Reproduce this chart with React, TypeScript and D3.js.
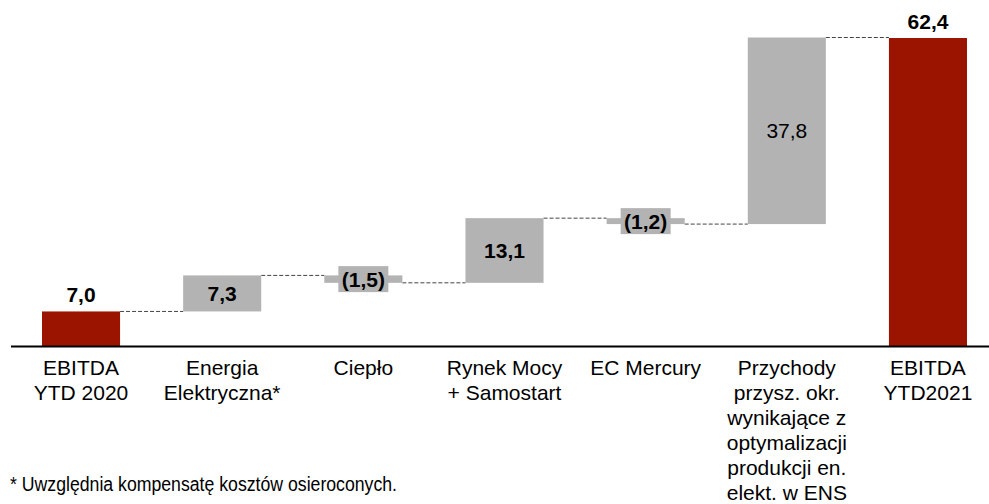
import React, { useEffect } from "react";
import * as d3 from "d3";

const categories: string[][] = [
  ["EBITDA", "YTD 2020"],
  ["Energia", "Elektryczna*"],
  ["Ciepło"],
  ["Rynek Mocy", "+ Samostart"],
  ["EC Mercury"],
  ["Przychody", "przysz. okr.", "wynikające z", "optymalizacji", "produkcji en.", "elekt. w ENS"],
  ["EBITDA", "YTD2021"],
];
const values: number[] = [7.0, 7.3, -1.5, 13.1, -1.2, 37.8, 62.4];
const kinds: string[] = ["total", "delta", "delta", "delta", "delta", "delta", "total"];
const valueLabels: string[] = ["7,0", "7,3", "(1,5)", "13,1", "(1,2)", "37,8", "62,4"];
const footnote = "* Uwzględnia kompensatę kosztów osieroconych.";

const W = 989;
const H = 504;
const RED = "#9A1400";
const GREY = "#B3B3B3";
const FONT = "Liberation Sans, Arial, sans-serif";

export default function App() {
  useEffect(() => {
    document.body.style.margin = "0";
    document.body.style.overflow = "hidden";
    document.documentElement.style.overflow = "hidden";
  }, []);

  const idx = categories.map((_, i) => String(i));
  const x = d3.scaleBand<string>().domain(idx).range([42, 967]).paddingInner(0.447).paddingOuter(0);
  const y = d3.scaleLinear().domain([0, 62.4]).range([346, 38]);

  let running = 0;
  const bars = values.map((v, i) => {
    let start: number, end: number;
    if (kinds[i] === "total") {
      start = 0;
      end = v;
      running = v;
    } else {
      start = running;
      end = running + v;
      running = end;
    }
    return { i, v, start, end };
  });

  const bw = x.bandwidth();

  return (
    <svg
      width={W}
      height={H}
      style={{ position: "absolute", left: 0, top: 0, display: "block", background: "#fff" }}
      fontFamily={FONT}
    >
      {bars.slice(0, -1).map((b, k) => {
        const next = bars[k + 1];
        const lvl = y(b.end);
        return (
          <line
            key={"c" + k}
            x1={(x(String(b.i)) as number) + bw}
            x2={x(String(next.i)) as number}
            y1={lvl}
            y2={lvl}
            stroke="#444"
            strokeWidth={1}
            strokeDasharray="4,2"
          />
        );
      })}
      {bars.map((b) => {
        const x0 = x(String(b.i)) as number;
        const top = y(Math.max(b.start, b.end));
        const bot = y(Math.min(b.start, b.end));
        return (
          <rect
            key={"b" + b.i}
            x={x0}
            y={top}
            width={bw}
            height={bot - top}
            fill={kinds[b.i] === "total" ? RED : GREY}
          />
        );
      })}
      {bars.map((b) => {
        const cx = (x(String(b.i)) as number) + bw / 2;
        const label = valueLabels[b.i];
        if (kinds[b.i] === "total") {
          return (
            <text key={"l" + b.i} x={cx} y={y(b.end) - 9.5} textAnchor="middle" fontSize={21} fontWeight="bold" fill="#000">
              {label}
            </text>
          );
        }
        const cy = (y(b.start) + y(b.end)) / 2;
        if (b.v < 0) {
          return (
            <g key={"l" + b.i}>
              <rect x={cx - 25} y={cy - 13} width={50} height={26} fill={GREY} />
              <text x={cx} y={cy + 7.5} textAnchor="middle" fontSize={21} fontWeight="bold" fill="#000">
                {label}
              </text>
            </g>
          );
        }
        return (
          <text
            key={"l" + b.i}
            x={cx}
            y={cy + 7.5}
            textAnchor="middle"
            fontSize={21}
            fontWeight={b.i === 5 ? "normal" : "bold"}
            fill="#000"
          >
            {label}
          </text>
        );
      })}
      <line x1={11} x2={989} y1={346.5} y2={346.5} stroke="#000" strokeWidth={2} />
      {categories.map((lines, i) => {
        const cx = (x(String(i)) as number) + bw / 2;
        return (
          <text key={"t" + i} textAnchor="middle" fontSize={21} fill="#000">
            {lines.map((ln, j) => (
              <tspan key={j} x={cx} y={374.5 + j * 25}>
                {ln}
              </tspan>
            ))}
          </text>
        );
      })}
      <text x={10} y={491} fontSize={20} fill="#000" textLength={387} lengthAdjust="spacingAndGlyphs">
        {footnote}
      </text>
    </svg>
  );
}
